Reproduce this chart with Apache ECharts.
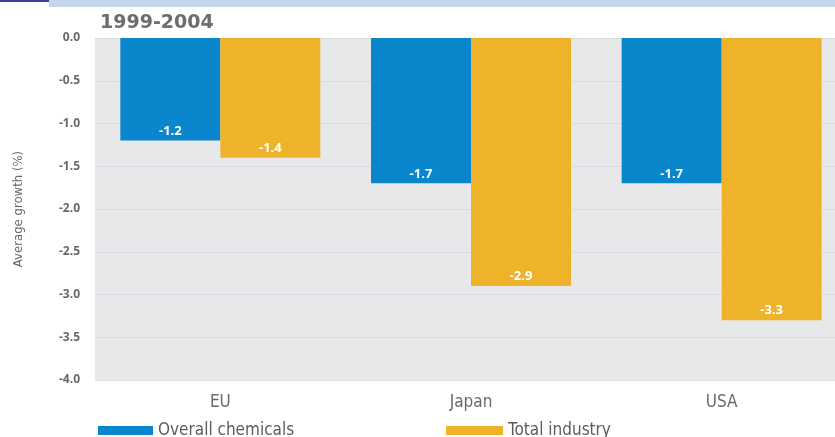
<!DOCTYPE html>
<html>
<head>
<meta charset="utf-8">
<script src="https://cdn.jsdelivr.net/npm/echarts@6/dist/echarts.min.js"></script>
<style>
  html, body { margin: 0; padding: 0; background: #ffffff; overflow: hidden; }
  /* plot runs slightly past the right edge of the window */
  #chart { width: 847px; height: 437px; }
</style>
</head>
<body>
<div id="chart"></div>
<script>
// Average growth 1999-2004, by region
const regions = ['EU', 'Japan', 'USA'];
const overallChemicals = [-1.2, -1.7, -1.7];
const totalIndustry = [-1.4, -2.9, -3.3];
const seriesNames = ['Overall chemicals', 'Total industry'];
const yTicks = { min: -4, max: 0, step: 0.5 };

const BLUE = '#0a86cc';
const ORANGE = '#efb32a';
const TEXT = '#666a6e';
const NARROW = "'Liberation Sans Narrow', 'DejaVu Sans Condensed', sans-serif";

const chart = echarts.init(document.getElementById('chart'), null, { renderer: 'canvas' });

const valueLabel = {
  show: true,
  position: 'insideBottom',
  distance: 3,
  color: '#ffffff',
  fontWeight: 'bold',
  fontSize: 13,
  fontFamily: 'Open Sans, sans-serif',
  formatter: p => p.value.toFixed(1)
};

chart.setOption({
  animation: false,
  backgroundColor: '#ffffff',
  title: {
    text: '1999-2004',
    left: 95,
    top: 9,
    textStyle: { color: '#6b6d70', fontSize: 19, fontWeight: 'bold', fontFamily: 'DejaVu Sans, sans-serif' }
  },
  graphic: [
    { type: 'rect', shape: { x: 49, y: 0, width: 798, height: 7 }, style: { fill: '#c3d6ea' } },
    { type: 'rect', shape: { x: 0, y: 0, width: 49, height: 2 }, style: { fill: '#3b3d9a' } }
  ],
  grid: {
    left: 95, top: 38, right: 0, bottom: 57,
    show: true, backgroundColor: '#e7e8ea', borderWidth: 0
  },
  legend: [
    {
      data: [seriesNames[0]], left: 93, top: 417,
      itemWidth: 55, itemHeight: 9, itemGap: 10,
      textStyle: { color: '#5a5d60', fontSize: 17, fontFamily: NARROW },
      icon: 'rect'
    },
    {
      data: [seriesNames[1]], left: 441, top: 417,
      itemWidth: 57, itemHeight: 9, itemGap: 10,
      textStyle: { color: '#5a5d60', fontSize: 17, fontFamily: NARROW },
      icon: 'rect'
    }
  ],
  xAxis: {
    type: 'category',
    data: regions,
    axisLine: { show: false },
    axisTick: { show: false },
    axisLabel: { color: TEXT, fontSize: 17, margin: 14, fontFamily: NARROW }
  },
  yAxis: {
    type: 'value',
    min: yTicks.min, max: yTicks.max, interval: yTicks.step,
    name: 'Average growth (%)',
    nameLocation: 'middle',
    nameGap: 70,
    nameTextStyle: { color: TEXT, fontSize: 13, fontFamily: NARROW },
    axisLine: { show: false },
    axisTick: { show: false },
    axisLabel: {
      color: TEXT, fontSize: 12, fontWeight: 'bold', margin: 15,
      fontFamily: 'Open Sans, sans-serif',
      formatter: v => v.toFixed(1)
    },
    splitLine: { show: true, lineStyle: { color: '#dadbde', width: 1 } }
  },
  series: [
    {
      name: seriesNames[0], type: 'bar', data: overallChemicals,
      barWidth: 100, barGap: '0%',
      itemStyle: { color: BLUE },
      label: valueLabel
    },
    {
      name: seriesNames[1], type: 'bar', data: totalIndustry,
      barWidth: 100, barGap: '0%',
      itemStyle: { color: ORANGE },
      label: valueLabel
    }
  ]
});
</script>
</body>
</html>
